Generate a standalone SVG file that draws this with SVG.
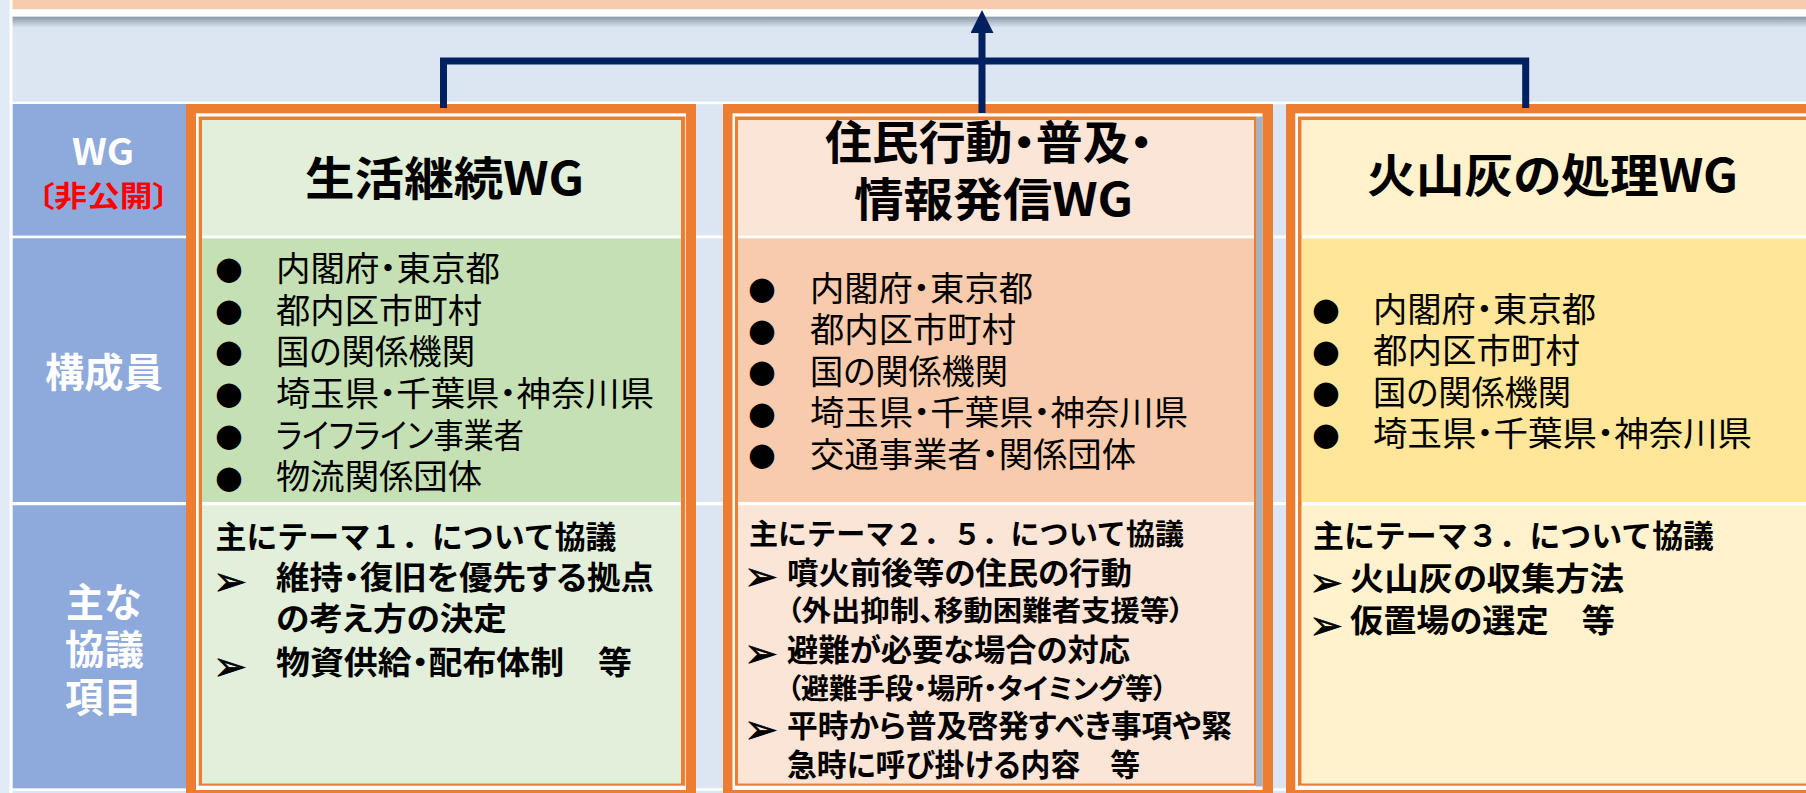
<svg xmlns="http://www.w3.org/2000/svg" width="1806" height="793" viewBox="0 0 1806 793">
<defs>
<style>
.t{font-family:"Noto Sans CJK JP","Noto Sans",sans-serif;font-feature-settings:"palt";fill:#000}
.np{font-feature-settings:normal}
.b{font-weight:700}
.hd{font-size:46px;font-weight:700}
.mem{font-size:34px;font-weight:400}
.it{font-size:31px;font-weight:700}
.sub{font-size:28px;font-weight:700}
.lbl{font-size:40px;font-weight:700;fill:#fff}
.bul{font-family:"DejaVu Sans",sans-serif;font-size:32px;fill:#000}
.arr{font-family:"DejaVu Sans",sans-serif;font-size:40px;font-weight:700;fill:#000;stroke:#000;stroke-width:0.8}
.or{fill:#ED7D31}
.wh{fill:#fff}
.lab{fill:#8EA9DB}
.conn{fill:none;stroke:#002060;stroke-width:7}
</style>
<linearGradient id="shadow" x1="0" y1="0" x2="0" y2="1">
<stop offset="0" stop-color="#8C98A8"/>
<stop offset="1" stop-color="#DCE6F2"/>
</linearGradient>
<marker id="ah" markerUnits="userSpaceOnUse" markerWidth="24" markerHeight="24" refX="0" refY="11.5" orient="auto">
<path d="M0,0 L23,11.5 L0,23 Z" fill="#002060"/>
</marker>
</defs>

<!-- background -->
<rect x="0" y="0" width="1806" height="793" fill="#DCE6F2"/>
<rect x="12" y="0" width="1794" height="9.3" fill="#F8CBAD"/>
<rect x="12" y="9.3" width="1794" height="7.4" fill="#fff"/>
<rect x="12" y="16.7" width="1794" height="11" fill="url(#shadow)"/>
<rect x="0" y="0" width="9.5" height="793" fill="#E1EBF6"/>
<rect x="9.5" y="0" width="3" height="793" fill="#fff"/>
<!-- table lines -->
<rect x="12.5" y="101.7" width="1794" height="2.5" class="wh"/>
<rect x="12.5" y="235.5" width="1794" height="2.8" class="wh"/>
<rect x="12.5" y="502" width="1794" height="3.3" class="wh"/>
<rect x="12.5" y="788.3" width="1794" height="2.5" class="wh"/>

<!-- label column -->
<g id="label-column">
<rect x="12.8" y="104" width="173.2" height="131.5" class="lab"/>
<rect x="12.8" y="238.3" width="173.2" height="263.7" class="lab"/>
<rect x="12.8" y="505.3" width="173.2" height="283" class="lab"/>
<text class="t b" x="72" y="165" font-size="36" style="fill:#fff" textLength="62" lengthAdjust="spacingAndGlyphs">WG</text>
<text class="t b" x="38" y="207" font-size="29" style="fill:#FF0000" textLength="131" lengthAdjust="spacingAndGlyphs">〔非公開〕</text>
<text class="t lbl" x="45" y="386.5" style="fill:#fff" textLength="118" lengthAdjust="spacingAndGlyphs">構成員</text>
<text class="t lbl" x="66" y="617" style="fill:#fff" textLength="75" lengthAdjust="spacingAndGlyphs">主な</text>
<text class="t lbl" x="65" y="664" style="fill:#fff" textLength="79" lengthAdjust="spacingAndGlyphs">協議</text>
<text class="t lbl" x="65" y="711.7" style="fill:#fff" textLength="77" lengthAdjust="spacingAndGlyphs">項目</text>
</g>

<!-- column 1 -->
<g id="wg-seikatsu">
<rect x="186" y="104" width="510" height="700" class="or"/>
<rect x="196" y="113.3" width="490" height="676.7" class="wh"/>
<rect x="198.7" y="116.5" width="486.5" height="669.2" class="or"/>
<rect x="202" y="120" width="479" height="663.3" class="wh"/>
<rect x="202" y="120" width="479" height="115.5" fill="#E2EFDA"/>
<rect x="202" y="238.3" width="479" height="263.7" fill="#C5E0B4"/>
<rect x="202" y="505.3" width="479" height="278" fill="#E2EFDA"/>
<text class="t hd" x="305" y="194.5" textLength="279" lengthAdjust="spacingAndGlyphs">生活継続WG</text>
<g class="mem-list">
<text class="bul" x="229" y="279" text-anchor="middle">●</text>
<text class="bul" x="229" y="320.7" text-anchor="middle">●</text>
<text class="bul" x="229" y="362.4" text-anchor="middle">●</text>
<text class="bul" x="229" y="404.1" text-anchor="middle">●</text>
<text class="bul" x="229" y="445.8" text-anchor="middle">●</text>
<text class="bul" x="229" y="487.5" text-anchor="middle">●</text>
<text class="t mem" x="276" y="280.9" textLength="224" lengthAdjust="spacingAndGlyphs">内閣府・東京都</text>
<text class="t mem" x="276" y="322.6" textLength="206" lengthAdjust="spacingAndGlyphs">都内区市町村</text>
<text class="t mem" x="276" y="364.3" textLength="199" lengthAdjust="spacingAndGlyphs">国の関係機関</text>
<text class="t mem" x="276" y="406" textLength="378" lengthAdjust="spacingAndGlyphs">埼玉県・千葉県・神奈川県</text>
<text class="t mem" x="276" y="447.7" textLength="248" lengthAdjust="spacingAndGlyphs">ライフライン事業者</text>
<text class="t mem" x="276" y="489.4" textLength="206" lengthAdjust="spacingAndGlyphs">物流関係団体</text>
</g>
<text class="t it np" x="215.5" y="547.8" textLength="401" lengthAdjust="spacingAndGlyphs">主にテーマ１．について協議</text>
<text class="arr" x="230" y="595" text-anchor="middle">➢</text>
<text class="t it" x="276" y="588.9" style="font-size:32px" textLength="378" lengthAdjust="spacingAndGlyphs">維持・復旧を優先する拠点</text>
<text class="t it" x="276" y="630.2" style="font-size:32px" textLength="231" lengthAdjust="spacingAndGlyphs">の考え方の決定</text>
<text class="arr" x="230" y="680" text-anchor="middle">➢</text>
<text class="t it" x="276" y="673.9" style="font-size:32px" textLength="356" lengthAdjust="spacingAndGlyphs">物資供給・配布体制　等</text>
</g>

<!-- column 2 -->
<g id="wg-jumin">
<rect x="723" y="104" width="550" height="700" class="or"/>
<rect x="732.5" y="113.3" width="530" height="676.7" class="wh"/>
<rect x="735" y="116.5" width="521" height="669.2" class="or"/>
<rect x="738" y="120" width="516" height="663.3" class="wh"/>
<rect x="738" y="120" width="516" height="115.5" fill="#FBE5D6"/>
<rect x="738" y="238.3" width="516" height="263.7" fill="#F8CBAD"/>
<rect x="738" y="505.3" width="516" height="278" fill="#FBE5D6"/>
<rect x="1256" y="116.5" width="6.6" height="670" fill="#A7B2C0"/>
<text class="t hd" x="825" y="158.5" textLength="328" lengthAdjust="spacingAndGlyphs">住民行動・普及・</text>
<text class="t hd" x="854" y="215.5" textLength="279" lengthAdjust="spacingAndGlyphs">情報発信WG</text>
<g class="mem-list">
<text class="bul" x="762" y="299" text-anchor="middle">●</text>
<text class="bul" x="762" y="340.5" text-anchor="middle">●</text>
<text class="bul" x="762" y="382" text-anchor="middle">●</text>
<text class="bul" x="762" y="423.5" text-anchor="middle">●</text>
<text class="bul" x="762" y="465" text-anchor="middle">●</text>
<text class="t mem" x="810" y="300.9" textLength="223" lengthAdjust="spacingAndGlyphs">内閣府・東京都</text>
<text class="t mem" x="810" y="342.4" textLength="206" lengthAdjust="spacingAndGlyphs">都内区市町村</text>
<text class="t mem" x="810" y="383.9" textLength="198" lengthAdjust="spacingAndGlyphs">国の関係機関</text>
<text class="t mem" x="810" y="425.4" textLength="378" lengthAdjust="spacingAndGlyphs">埼玉県・千葉県・神奈川県</text>
<text class="t mem" x="810" y="466.9" textLength="326" lengthAdjust="spacingAndGlyphs">交通事業者・関係団体</text>
</g>
<text class="t it np" x="749" y="545" style="font-size:29px" textLength="435" lengthAdjust="spacingAndGlyphs">主にテーマ２．５．について協議</text>
<text class="arr" x="761" y="590" text-anchor="middle">➢</text>
<text class="t it" x="787" y="583.5" textLength="345" lengthAdjust="spacingAndGlyphs">噴火前後等の住民の行動</text>
<text class="t sub" x="787" y="621.4" textLength="397" lengthAdjust="spacingAndGlyphs">（外出抑制、移動困難者支援等）</text>
<text class="arr" x="761" y="667.3" text-anchor="middle">➢</text>
<text class="t it" x="787" y="660.8" textLength="343" lengthAdjust="spacingAndGlyphs">避難が必要な場合の対応</text>
<text class="t sub" x="787" y="698.6" textLength="380" lengthAdjust="spacingAndGlyphs">（避難手段・場所・タイミング等）</text>
<text class="arr" x="761" y="743.3" text-anchor="middle">➢</text>
<text class="t it" x="787" y="736.8" textLength="445" lengthAdjust="spacingAndGlyphs">平時から普及啓発すべき事項や緊</text>
<text class="t it" x="787" y="775.8" textLength="353" lengthAdjust="spacingAndGlyphs">急時に呼び掛ける内容　等</text>
</g>

<!-- column 3 -->
<g id="wg-kazanbai">
<rect x="1286" y="104" width="540" height="700" class="or"/>
<rect x="1295.3" y="113.3" width="530" height="676.7" class="wh"/>
<rect x="1298" y="116.5" width="530" height="669.2" class="or"/>
<rect x="1301.7" y="120" width="520" height="663.3" class="wh"/>
<rect x="1301.7" y="120" width="520" height="115.5" fill="#FFF2CC"/>
<rect x="1301.7" y="238.3" width="520" height="263.7" fill="#FFE699"/>
<rect x="1301.7" y="505.3" width="520" height="278" fill="#FFF2CC"/>
<text class="t hd" x="1367" y="191.5" textLength="371" lengthAdjust="spacingAndGlyphs">火山灰の処理WG</text>
<g class="mem-list">
<text class="bul" x="1326" y="320" text-anchor="middle">●</text>
<text class="bul" x="1326" y="361.5" text-anchor="middle">●</text>
<text class="bul" x="1326" y="403" text-anchor="middle">●</text>
<text class="bul" x="1326" y="444.5" text-anchor="middle">●</text>
<text class="t mem" x="1373" y="321.9" textLength="223" lengthAdjust="spacingAndGlyphs">内閣府・東京都</text>
<text class="t mem" x="1373" y="363.4" textLength="207" lengthAdjust="spacingAndGlyphs">都内区市町村</text>
<text class="t mem" x="1373" y="404.9" textLength="198" lengthAdjust="spacingAndGlyphs">国の関係機関</text>
<text class="t mem" x="1373" y="446.4" textLength="379" lengthAdjust="spacingAndGlyphs">埼玉県・千葉県・神奈川県</text>
</g>
<text class="t it np" x="1313" y="546.8" textLength="401" lengthAdjust="spacingAndGlyphs">主にテーマ３．について協議</text>
<text class="arr" x="1326" y="596" text-anchor="middle">➢</text>
<text class="t it" x="1350" y="589.7" style="font-size:32px" textLength="274" lengthAdjust="spacingAndGlyphs">火山灰の収集方法</text>
<text class="arr" x="1326" y="638.5" text-anchor="middle">➢</text>
<text class="t it" x="1350" y="632.2" style="font-size:32px" textLength="265" lengthAdjust="spacingAndGlyphs">仮置場の選定　等</text>
</g>

<!-- connectors -->
<g id="connectors">
<path class="conn" d="M443.5,108 V61 H1525.7 V108"/>
<path class="conn" d="M982,113 V33" marker-end="url(#ah)"/>
</g>
</svg>
